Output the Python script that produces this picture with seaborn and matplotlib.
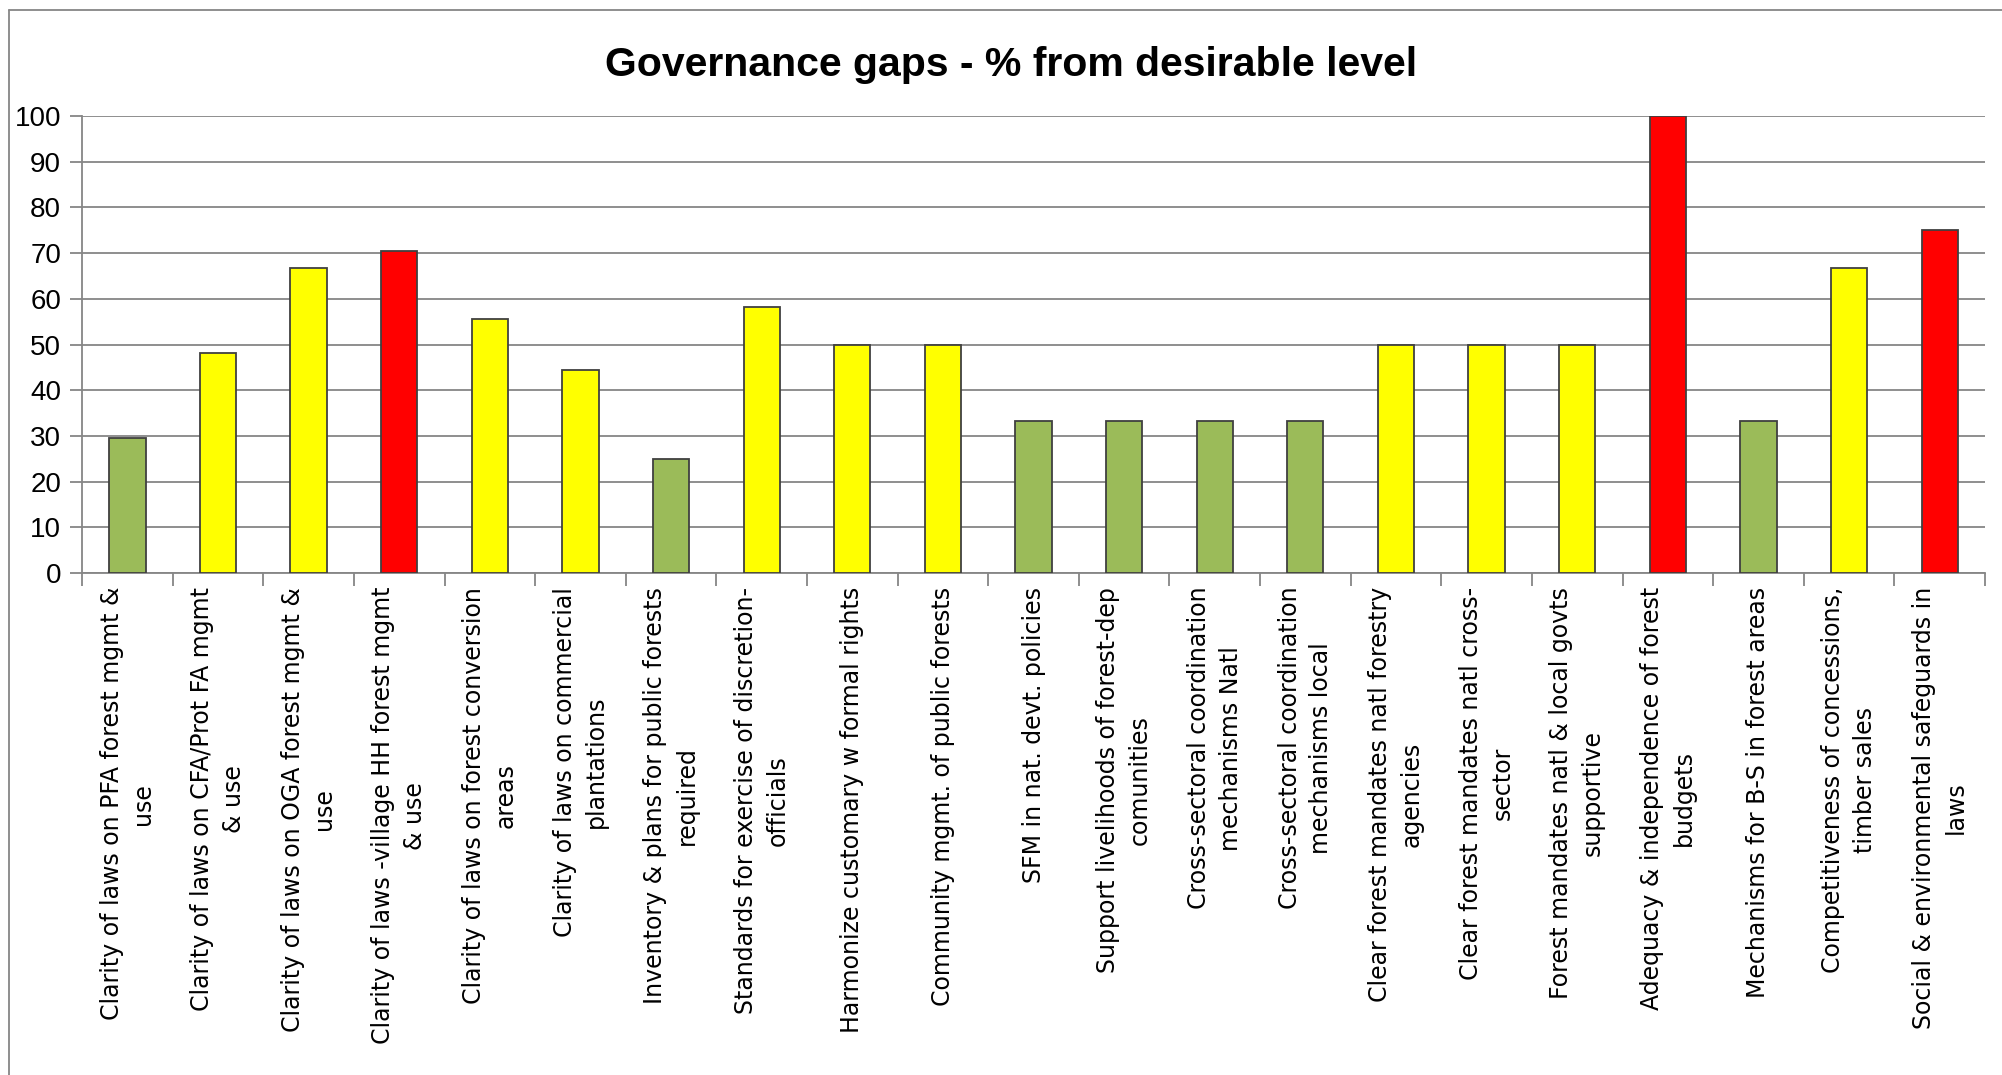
import matplotlib
matplotlib.use("Agg")
import matplotlib.pyplot as plt
import seaborn as sns
import pandas as pd
from matplotlib.lines import Line2D

categories = [
    "Clarity of laws on PFA forest mgmt &\nuse",
    "Clarity of laws on CFA/Prot FA mgmt\n& use",
    "Clarity of laws on OGA forest mgmt &\nuse",
    "Clarity of laws -village HH forest mgmt\n& use",
    "Clarity of laws on forest conversion\nareas",
    "Clarity of laws on commercial\nplantations",
    "Inventory & plans for public forests\nrequired",
    "Standards for exercise of discretion-\nofficials",
    "Harmonize customary w formal rights",
    "Community mgmt. of public forests",
    "SFM in nat. devt. policies",
    "Support livelihoods of forest-dep\ncomunities",
    "Cross-sectoral coordination\nmechanisms Natl",
    "Cross-sectoral coordination\nmechanisms local",
    "Clear forest mandates natl forestry\nagencies",
    "Clear forest mandates natl cross-\nsector",
    "Forest mandates natl & local govts\nsupportive",
    "Adequacy & independence of forest\nbudgets",
    "Mechanisms for B-S in forest areas",
    "Competitiveness of concessions,\ntimber sales",
    "Social & environmental safeguards in\nlaws",
]
gaps = [29.6, 48.1, 66.7, 70.4, 55.6, 44.4, 25.0, 58.3, 50.0, 50.0, 33.3,
        33.3, 33.3, 33.3, 50.0, 50.0, 50.0, 100.0, 33.3, 66.7, 75.0]
levels = ["green", "yellow", "yellow", "red", "yellow", "yellow", "green",
          "yellow", "yellow", "yellow", "green", "green", "green", "green",
          "yellow", "yellow", "yellow", "red", "green", "yellow", "red"]
level_colors = {"green": "#9BBB59", "yellow": "#FFFF00", "red": "#FF0000"}

df = pd.DataFrame({"category": categories, "gap": gaps, "level": levels})

sns.set_style("white")
plt.rcParams["font.family"] = ["Liberation Sans", "DejaVu Sans"]
plt.rcParams["text.color"] = "black"
plt.rcParams["xtick.labelcolor"] = "black"
plt.rcParams["ytick.labelcolor"] = "black"

fig = plt.figure(figsize=(20.02, 10.75), dpi=100)
ax = fig.add_axes([0.041, 0.467, 0.9505, 0.425])

sns.barplot(data=df, x="category", y="gap", hue="level", palette=level_colors,
            saturation=1, dodge=False, width=0.4, edgecolor="#404040",
            linewidth=1.3, legend=False, ax=ax, zorder=3)

grid_c = "#868686"
ax.set_ylim(0, 100)
ax.set_xlim(-0.5, len(categories) - 0.5)
ax.set_yticks(range(0, 101, 10))
ax.yaxis.grid(True, color=grid_c, linewidth=1.3, zorder=0)
ax.set_axisbelow(True)
ax.set_xlabel("")
ax.set_ylabel("")

for s in ["top", "right"]:
    ax.spines[s].set_visible(False)
for s in ["left", "bottom"]:
    ax.spines[s].set_color(grid_c)
    ax.spines[s].set_linewidth(1.3)

ax.tick_params(axis="y", length=9, width=1.3, color=grid_c, labelsize=20,
               labelcolor="black", pad=6, left=True)
ax.set_xticks(range(len(categories)))
ax.set_xticklabels(categories, rotation=90, ha="center", va="top",
                   multialignment="center", fontsize=17, family="DejaVu Sans",
                   linespacing=1.4, color="black")
ax.tick_params(axis="x", length=0, pad=10)
# tick marks between categories
ax.set_xticks([i - 0.5 for i in range(len(categories) + 1)], minor=True)
ax.tick_params(axis="x", which="minor", length=9, width=1.3, color=grid_c,
               bottom=True)

fig.text(0.505, 0.940, "Governance gaps - % from desirable level",
         ha="center", va="center", fontsize=29.5, fontweight="bold",
         color="black")

# chart frame
fig.add_artist(Line2D([9 / 2002, 9 / 2002], [0, 1 - 10 / 1075],
                      color=grid_c, linewidth=1.3, transform=fig.transFigure))
fig.add_artist(Line2D([9 / 2002, 1], [1 - 10 / 1075, 1 - 10 / 1075],
                      color=grid_c, linewidth=1.3, transform=fig.transFigure))

fig.savefig("out.png", dpi=100)
